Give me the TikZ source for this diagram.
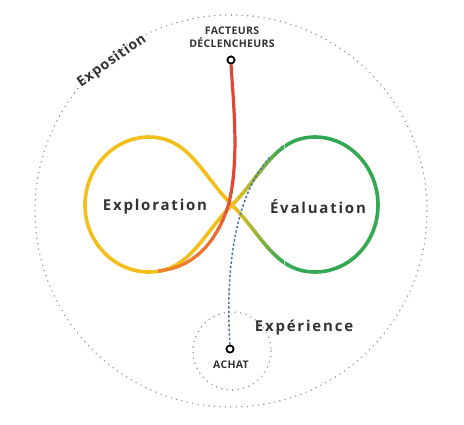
\documentclass[tikz,border=0pt]{standalone}
\usepackage{fontspec}
\setmainfont{Open Sans}
\newfontfamily\widefont[LetterSpace=12]{Open Sans}
\newfontfamily\midfont[LetterSpace=6]{Open Sans}
\newfontfamily\tightfont[LetterSpace=3]{Open Sans}

\definecolor{loopyellow}{HTML}{F2BF1B}
\definecolor{loopgreen}{HTML}{34A853}
\definecolor{triggerred}{HTML}{DF4837}
\definecolor{triggerorange}{HTML}{F0892A}
\definecolor{buyblue}{HTML}{4A76A8}
\definecolor{inkgray}{HTML}{333333}

% the figure eight
\newcommand\infinitypath{(232,205) .. controls (262,175) and (275,137) .. (315,137)
  .. controls (350,137) and (378,168) .. (378,205)
  .. controls (378,242) and (350,272) .. (315,272)
  .. controls (275,272) and (262,235) .. (232,205)
  .. controls (202,175) and (189,137) .. (149,137)
  .. controls (114,137) and (85,168) .. (85,205)
  .. controls (85,242) and (114,272) .. (149,272)
  .. controls (189,272) and (202,235) .. (232,205) -- cycle}
% the trigger line
\newcommand\triggerpath{(facteurs.south) .. controls (234,110) and (239,160) .. (229,203)
  .. controls (218,240) and (195,268) .. (redend)}

\begin{document}
\begin{tikzpicture}[x=1pt,y=-1pt,
    ring/.style={draw=gray!85,line width=1.6pt,dash pattern=on 0pt off 5.5pt,line cap=round},
    loopline/.style={line width=3.6pt},
    dot/.style={circle,draw=black,fill=white,line width=1.6pt,inner sep=0pt,minimum size=7pt},
    phase/.style={text=inkgray,font=\widefont\bfseries\fontsize{15}{18}\selectfont},
    small/.style={text=inkgray,font=\tightfont\bfseries\fontsize{10.5}{13}\selectfont,align=center,inner sep=0pt}]
  \useasboundingbox (0,0) rectangle (464,424);
  % rings
  \draw [ring] (231,211) circle [radius=196];
  \draw [ring] (232,351) circle [radius=39];
  % labels
  \node [text=inkgray,font=\midfont\bfseries\fontsize{14}{17}\selectfont,rotate=35,inner sep=0pt] (expo) at (112,61) {Exposition};
  \node [phase] (explo) at (155,207) {Exploration};
  \node [phase] (eval) at (318,207) {Évaluation};
  \node [phase] (expe) at (304,328) {Expérience};
  \node [small] (factxt) at (232,37) {FACTEURS\\DÉCLENCHEURS};
  \node [small] (achattxt) at (231,365) {ACHAT};
  % end points
  \node [dot] (facteurs) at (231,60) {};
  \node [dot] (achat) at (230,349) {};
  \coordinate (redend) at (158,271);
  \coordinate (merge) at (270,157);
  % loop, yellow left and green right
  \begin{scope}
    \clip (0,0) rectangle (233,424);
    \draw [loopline,loopyellow] \infinitypath;
  \end{scope}
  \begin{scope}
    \clip (285,0) rectangle (464,424);
    \draw [loopline,loopgreen] \infinitypath;
  \end{scope}
  \foreach \i in {0,...,25} {
    \pgfmathsetmacro\xa{232+2*\i}
    \pgfmathsetmacro\pc{100-4*\i}
    \begin{scope}
      \clip (\xa,0) rectangle (\xa+2.4,424);
      \draw [loopline,color=loopyellow!\pc!loopgreen] \infinitypath;
    \end{scope}
  }
  % trigger, red to orange
  \begin{scope}
    \clip (0,0) rectangle (464,181);
    \draw [line width=3.2pt,triggerred] \triggerpath;
  \end{scope}
  \foreach \i in {0,...,23} {
    \pgfmathsetmacro\ya{180+4*\i}
    \pgfmathsetmacro\pc{100-4*\i}
    \begin{scope}
      \clip (0,\ya) rectangle (464,\ya+4.4);
      \draw [line width=3.2pt,color=triggerred!\pc!triggerorange] \triggerpath;
    \end{scope}
  }
  \node [dot] at (facteurs) {};
  % purchase
  \draw [buyblue,line width=1.5pt,dash pattern=on 2.5pt off 2pt]
    (achat.north) .. controls (225,270) and (235,195) .. (merge);
  \node [dot] at (achat) {};
\end{tikzpicture}
\end{document}
